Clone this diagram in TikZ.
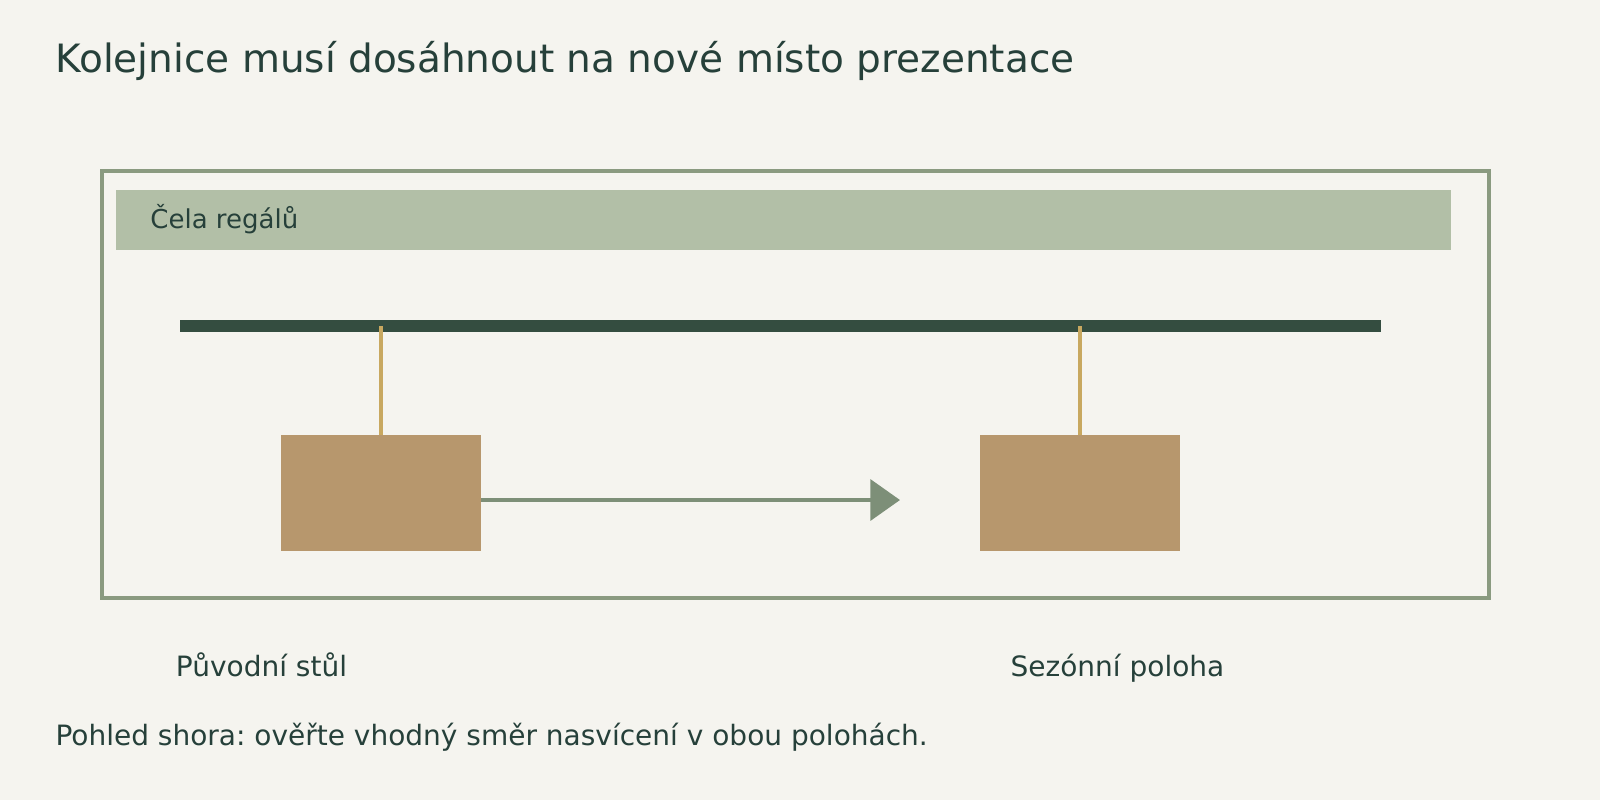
\documentclass[tikz,border=0pt]{standalone}
\usepackage{fontspec}
\setmainfont{DejaVu Sans}
\usetikzlibrary{arrows.meta}
\frenchspacing
\definecolor{bg}{HTML}{F5F4EF}
\definecolor{framec}{HTML}{8A9A80}
\definecolor{bandc}{HTML}{B2BFA7}
\definecolor{txt}{HTML}{26403A}
\definecolor{railc}{HTML}{344D40}
\definecolor{hangc}{HTML}{C8A860}
\definecolor{boxc}{HTML}{B7976D}
\definecolor{arrc}{HTML}{7D8F78}
\newdimen\pxu \pxu=0.5102pt
\tikzset{
  lbl/.style={anchor=base west, inner sep=0pt, text=txt, font=\fontsize{14pt}{17pt}\selectfont},
  tablebox/.style={anchor=north west, inner sep=0pt, fill=boxc, minimum width=196*\pxu, minimum height=114*\pxu},
  hanger/.style={draw=hangc, line width=4.5*\pxu},
  movearrow/.style={draw=arrc, line width=4*\pxu, -{Triangle[length=14.8pt,width=20.4pt]}, arrc}
}
\begin{document}
\frenchspacing
\begin{tikzpicture}[x=\pxu,y=-\pxu]
\fill[bg] (0,0) rectangle (1568,784);
\useasboundingbox (0,0) rectangle (1568,784);
% title
\node[lbl, font=\fontsize{19.5pt}{23pt}\selectfont] (title) at (54,71) {Kolejnice musí dosáhnout na nové místo prezentace};
% frame
\draw[framec, line width=4*\pxu] (100,168) rectangle (1459,586);
% band
\node[anchor=north west, inner sep=0pt, fill=bandc, minimum width=1309*\pxu, minimum height=59*\pxu] (band) at (113,186) {};
\node[lbl, font=\fontsize{13pt}{16pt}\selectfont] (bandlbl) at (147,224) {Čela regálů};
% rail
\node[anchor=north west, inner sep=0pt, fill=railc, minimum width=1177*\pxu, minimum height=12*\pxu] (rail) at (176,313) {};
% boxes
\node[tablebox] (box1) at (275,426) {};
\node[tablebox] (box2) at (960,426) {};
% hangers
\draw[hanger] (box1.north) -- (box1.north |- rail.center);
\draw[hanger] (box2.north) -- (box2.north |- rail.center);
% arrow
\coordinate (tip) at (882,490);
\draw[movearrow] (box1.east |- tip) -- (tip);
% labels
\node[lbl] (l1) at (172,663) {Původní stůl};
\node[lbl] (l2) at (990,663) {Sezónní poloha};
\node[lbl] (note) at (54,731) {Pohled shora: ověřte vhodný směr nasvícení v obou polohách.};
\end{tikzpicture}
\end{document}
